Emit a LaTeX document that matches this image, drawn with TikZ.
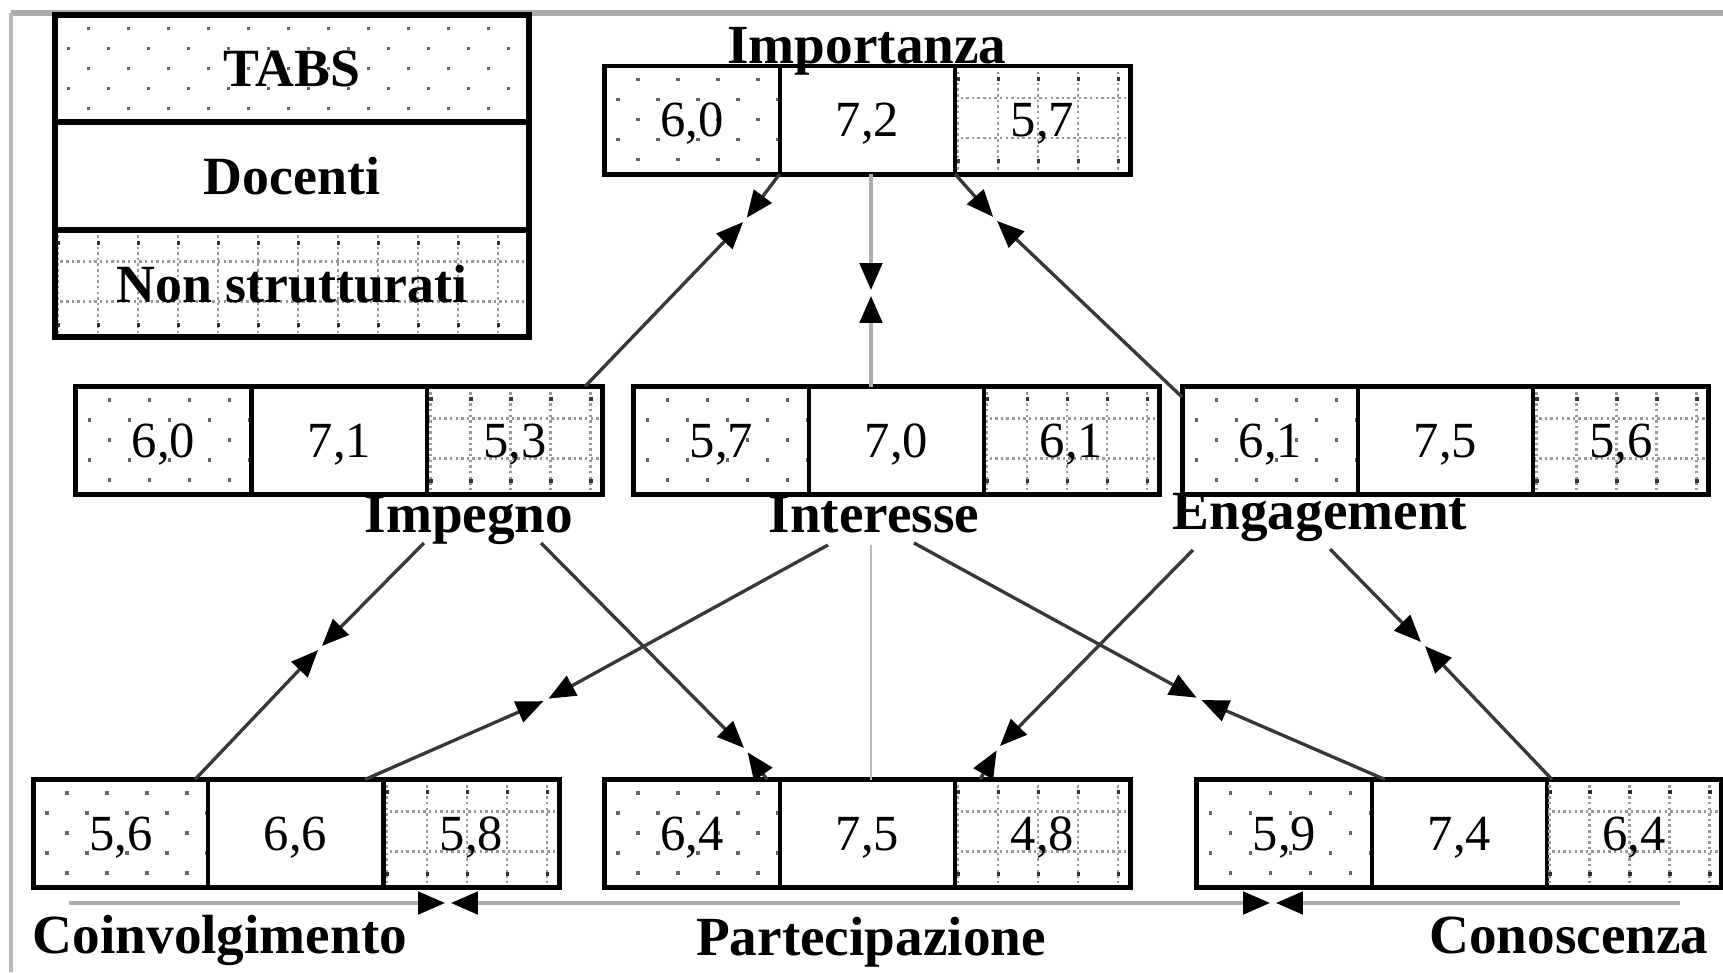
\documentclass[tikz,border=0pt]{standalone}
\usepackage{fontspec}
\setmainfont{Liberation Serif}
\usetikzlibrary{calc,arrows.meta}
\newcommand\tiplink[4][conn]{%
  \draw[#1] (#2) -- ($(#3)!0.8pt!(#2)$);
  \draw[#1] (#4) -- ($(#3)!0.8pt!(#4)$);}
\begin{document}
\begin{tikzpicture}[x=0.01cm,y=-0.01cm,
  every node/.style={inner sep=0pt,outer sep=0pt},
  cell/.style={draw=black,line width=1pt,minimum width=1.75cm,minimum height=1.08cm,
    text depth=0pt,font=\fontsize{14.4}{16}\selectfont},
  lab/.style={anchor=base,font=\fontsize{15.7}{18}\selectfont\bfseries},
  legcell/.style={cell,minimum width=4.74cm,minimum height=1.075cm,font=\fontsize{15.3}{18}\selectfont\bfseries},
  outerbox/.style={draw=black,line width=1.4pt},
  tabs/.style={path picture={
    \foreach \j in {0,...,5}{
      \foreach \i in {0,...,12}{
        \pgfmathsetmacro\xx{ifthenelse(mod(\j,2)==0,32,12)+40*\i}
        \pgfmathsetmacro\yy{12+20*\j}
        \fill[black!60] ($(path picture bounding box.north west)+(\xx,\yy)$) rectangle +(3.5,3.5);
      }}}},
  nstr/.style={path picture={
    \foreach \i in {0,...,12}{
      \draw[gray!80,line width=0.7pt,dash pattern=on 0.7pt off 0.9pt]
        ($(path picture bounding box.north west)+(3+40*\i,0)$) -- ++(0,120);
      \fill[black!80] ($(path picture bounding box.north west)+(2+40*\i,11)$) rectangle +(3.5,4);
      \fill[black!80] ($(path picture bounding box.north west)+(2+40*\i,93)$) rectangle +(3.5,4);
    }
    \foreach \k in {32,72}{
      \draw[gray!80,line width=0.7pt,dash pattern=on 0.7pt off 0.9pt]
        ($(path picture bounding box.north west)+(0,\k)$) -- ++(500,0);
    }}},
  conn/.style={draw=black!78,line width=0.95pt,-{Triangle[length=0.27cm,width=0.22cm,color=black]}},
  grayconn/.style={draw=gray!65,line width=1.3pt,-{Triangle[length=0.27cm,width=0.22cm,color=black]}},
]
\useasboundingbox (0,0) rectangle (1723,972);
\fill[white] (0,0) rectangle (1723,972);
% frame
\draw[gray!65,line width=1.7pt] (11,13) -- (1723,13);
\draw[gray!55,line width=1.3pt] (11,13) -- (11,972);

% legend
\node[legcell,tabs] (legT) at (292,68.5) {TABS};
\node[legcell] (legD) at (292,176) {Docenti};
\node[legcell,nstr] (legN) at (292,283.5) {Non strutturati};
\draw[outerbox,line width=1.6pt] (legT.north west) rectangle (legN.south east);
\draw[outerbox,line width=1.8pt] (legT.south west) -- (legT.south east);
\draw[outerbox,line width=1.8pt] (legD.south west) -- (legD.south east);

% Importanza
\node[cell,tabs] (ia1) at (692,120) {6,0};
\node[cell] (ia2) at (867.5,120) {7,2};
\node[cell,nstr] (ia3) at (1042.5,120) {5,7};
\draw[outerbox] (ia1.north west) rectangle (ia3.south east);
\node[lab] (lia) at (867,63) {Importanza};

% Impegno
\node[cell,tabs] (ib1) at (163.5,440.5) {6,0};
\node[cell] (ib2) at (339.5,440.5) {7,1};
\node[cell,nstr] (ib3) at (515,440.5) {5,3};
\draw[outerbox] (ib1.north west) rectangle (ib3.south east);
\node[lab] (lib) at (469,532) {Impegno};

% Interesse
\node[cell,tabs] (ic1) at (721.5,440.5) {5,7};
\node[cell] (ic2) at (896.5,440.5) {7,0};
\node[cell,nstr] (ic3) at (1071.5,440.5) {6,1};
\draw[outerbox] (ic1.north west) rectangle (ic3.south east);
\node[lab] (lic) at (874,532) {Interesse};

% Engagement
\node[cell,tabs] (id1) at (1270.5,440.5) {6,1};
\node[cell] (id2) at (1445.5,440.5) {7,5};
\node[cell,nstr] (id3) at (1621,440.5) {5,6};
\draw[outerbox] (id1.north west) rectangle (id3.south east);
\node[lab] (lid) at (1320,529) {Engagement};

% Coinvolgimento
\node[cell,tabs] (ie1) at (121,833.5) {5,6};
\node[cell] (ie2) at (295.5,833.5) {6,6};
\node[cell,nstr] (ie3) at (471.5,833.5) {5,8};
\draw[outerbox] (ie1.north west) rectangle (ie3.south east);
\node[lab] (lie) at (220,953) {Coinvolgimento};

% Partecipazione
\node[cell,tabs] (if1) at (692,833.5) {6,4};
\node[cell] (if2) at (867.5,833.5) {7,5};
\node[cell,nstr] (if3) at (1042.5,833.5) {4,8};
\draw[outerbox] (if1.north west) rectangle (if3.south east);
\node[lab] (lif) at (871,955) {Partecipazione};

% Conoscenza
\node[cell,tabs] (ig1) at (1284.5,833.5) {5,9};
\node[cell] (ig2) at (1459.5,833.5) {7,4};
\node[cell,nstr] (ig3) at (1634,833.5) {6,4};
\draw[outerbox] (ig1.north west) rectangle (ig3.south east);
\node[lab] (lig) at (1569,953) {Conoscenza};

% connector end points and meeting points
\coordinate (m1) at (745,220);  \coordinate (q1) at (585,386.5);
\coordinate (p2) at (871,174);  \coordinate (m2) at (871,293);  \coordinate (q2) at (871,386.5);
\coordinate (m3) at (995,219);  \coordinate (q3) at (1182,397);
\coordinate (p4) at (424,543);  \coordinate (m4) at (320,648);  \coordinate (q4) at (195,779.5);
\coordinate (p5) at (541,543);  \coordinate (m5) at (746,750);  \coordinate (q5) at (767,779.5);
\coordinate (p6) at (828,545);  \coordinate (m6) at (546,700);  \coordinate (q6) at (365,779.5);
\coordinate (p7) at (871,545);  \coordinate (q7) at (871,779.5);
\coordinate (p8) at (914,543);  \coordinate (m8) at (1199,699); \coordinate (q8) at (1385,779.5);
\coordinate (p9) at (1193,550); \coordinate (m9) at (998,748);  \coordinate (q9) at (980,779.5);
\coordinate (p10) at (1330,549); \coordinate (m10) at (1423,644); \coordinate (q10) at (1552,779.5);
\coordinate (p11) at (69,903);  \coordinate (m11) at (448,903); \coordinate (q11) at (871,903);
\coordinate (m12) at (1273,903); \coordinate (q12) at (1680,903);

% connectors
\tiplink{ia1.south east}{m1}{q1}
\tiplink[grayconn]{p2}{m2}{q2}
\tiplink{ia2.south east}{m3}{q3}
\tiplink{p4}{m4}{q4}
\tiplink{p5}{m5}{q5}
\tiplink{p6}{m6}{q6}
\draw[gray!55,line width=0.6pt] (p7) -- (q7);
\tiplink{p8}{m8}{q8}
\tiplink{p9}{m9}{q9}
\tiplink{p10}{m10}{q10}
\tiplink[grayconn]{p11}{m11}{q11}
\tiplink[grayconn]{q11}{m12}{q12}
\end{tikzpicture}
\end{document}
